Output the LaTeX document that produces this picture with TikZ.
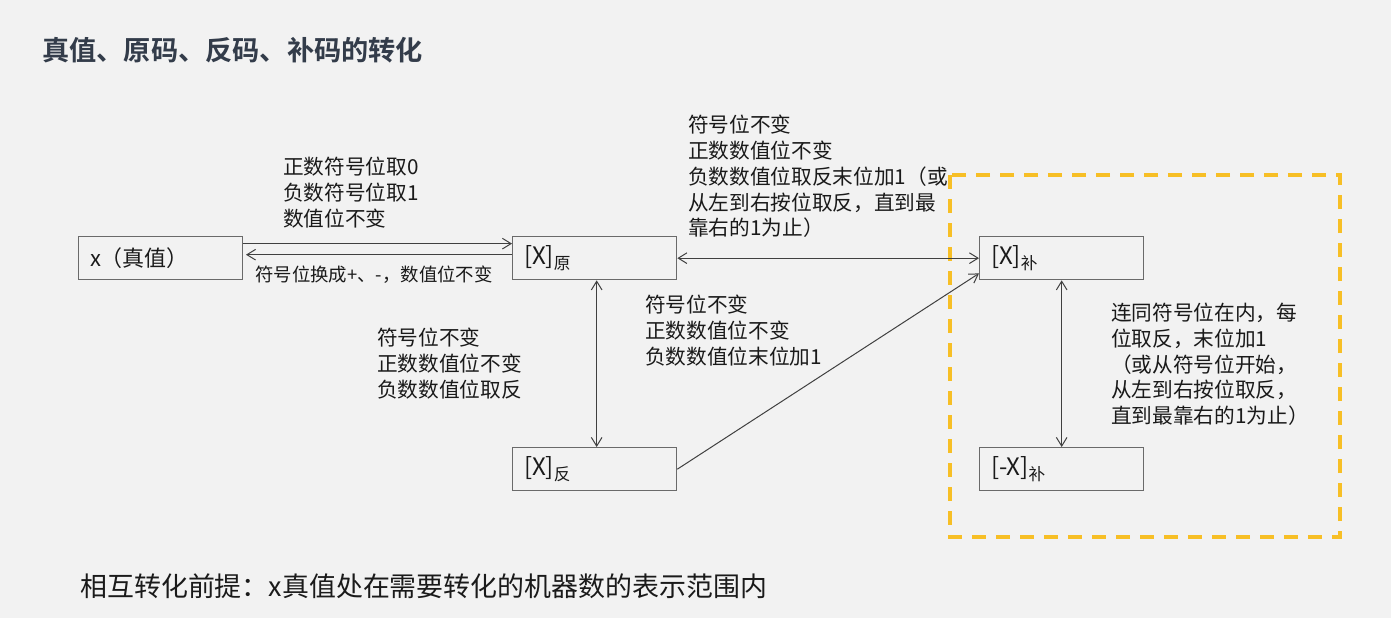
\documentclass[tikz,border=0pt]{standalone}
\usepackage{fontspec}
\usetikzlibrary{arrows.meta}
\newfontfamily\cjk{Noto Sans CJK SC}
\newfontfamily\cjkb{Noto Sans CJK SC Bold}
\definecolor{bg}{HTML}{F2F2F2}
\definecolor{ink}{HTML}{1A1A1A}
\definecolor{titleink}{HTML}{333C4A}
\definecolor{boxline}{HTML}{6A6A6A}
\definecolor{linkline}{HTML}{404040}
\definecolor{gold}{HTML}{F7BF26}
% lowered small subscript after [X]
\newcommand\cnsub[1]{\raisebox{-3.2pt}{\fontsize{12.5pt}{12.5pt}\selectfont #1}}
\begin{document}
\begin{tikzpicture}[x=0.75pt,y=-0.75pt,
  box/.style={draw=boxline, line width=1pt, fill=bg, anchor=north west,
    minimum width=123pt, minimum height=32.25pt, text width=106pt,
    inner xsep=8.5pt, inner ysep=0pt, align=left, text=ink},
  boxtxt/.style={font=\cjk\fontsize{18pt}{20pt}\selectfont},
  note/.style={anchor=north west, inner sep=0pt, align=left, text=ink,
    font=\cjk\fontsize{15.5pt}{19.3pt}\selectfont},
  smallnote/.style={anchor=north west, inner sep=0pt, align=left, text=ink,
    font=\cjk\fontsize{13.8pt}{16pt}\selectfont},
  link/.style={draw=linkline, line width=0.75pt},
  tip/.style={-{Straight Barb[length=6.5pt,width=8pt]}},
  tips/.style={{Straight Barb[length=6.5pt,width=8pt]}-{Straight Barb[length=6.5pt,width=8pt]}},
]
% page background
\fill[bg] (0,0) rectangle (1391,618);
\useasboundingbox (0,0) rectangle (1391,618);

% heading
\node[anchor=north west, inner sep=0pt, text=titleink,
  font=\cjkb\fontsize{20.4pt}{24pt}\selectfont] (title) at (42,37)
  {真值、原码、反码、补码的转化};

% highlighted region around the two-complement pair
\draw[gold, line width=2.3pt, dash pattern=on 10.5pt off 7.5pt]
  (950,175) rectangle (1340,537);

% representation boxes
\node[box, font=\cjk\fontsize{16.5pt}{20pt}\selectfont] (true) at (78,236) {x（真值）};
\node[box, boxtxt] (orig) at (512,236) {[X]\cnsub{原}};
\node[box, boxtxt] (comp) at (979,236) {[X]\cnsub{补}};
\node[box, boxtxt] (ones) at (512,447) {[X]\cnsub{反}};
\node[box, boxtxt] (negc) at (979,447) {[-X]\cnsub{补}};

% connectors
\draw[link, tip] ([yshift=10.9pt]true.east) -- ([yshift=10.9pt]orig.west);
\draw[link, tip] ([yshift=2.6pt]orig.west) -- ([yshift=2.6pt,xshift=2pt]true.east);
\draw[link, tips] (orig.east) -- (comp.west);
\draw[link, tips] ([xshift=1.5pt]orig.south) -- ([xshift=1.5pt]ones.north);
\draw[link, tip] (ones.east) -- ([yshift=5.2pt]comp.south west);
\draw[link, tips] (comp.south) -- (negc.north);

% transformation rules
\node[note] (r1) at (283,157) {正数符号位取0\\负数符号位取1\\数值位不变};
\node[smallnote] (r2) at (255,266) {符号位换成+、-，数值位不变};
\node[note] (r3) at (688,115) {符号位不变\\正数数值位不变\\负数数值位取反末位加1（或\\从左到右按位取反，直到最\\靠右的1为止）};
\node[note] (r4) at (377,328) {符号位不变\\正数数值位不变\\负数数值位取反};
\node[note] (r5) at (645,295) {符号位不变\\正数数值位不变\\负数数值位末位加1};
\node[note] (r6) at (1111,303) {连同符号位在内，每\\位取反，末位加1\\（或从符号位开始，\\从左到右按位取反，\\直到最靠右的1为止）};

% precondition
\node[anchor=north west, inner sep=0pt, text=ink,
  font=\cjk\fontsize{20.2pt}{22pt}\selectfont] (pre) at (80,573)
  {相互转化前提：x真值处在需要转化的机器数的表示范围内};
\end{tikzpicture}
\end{document}
